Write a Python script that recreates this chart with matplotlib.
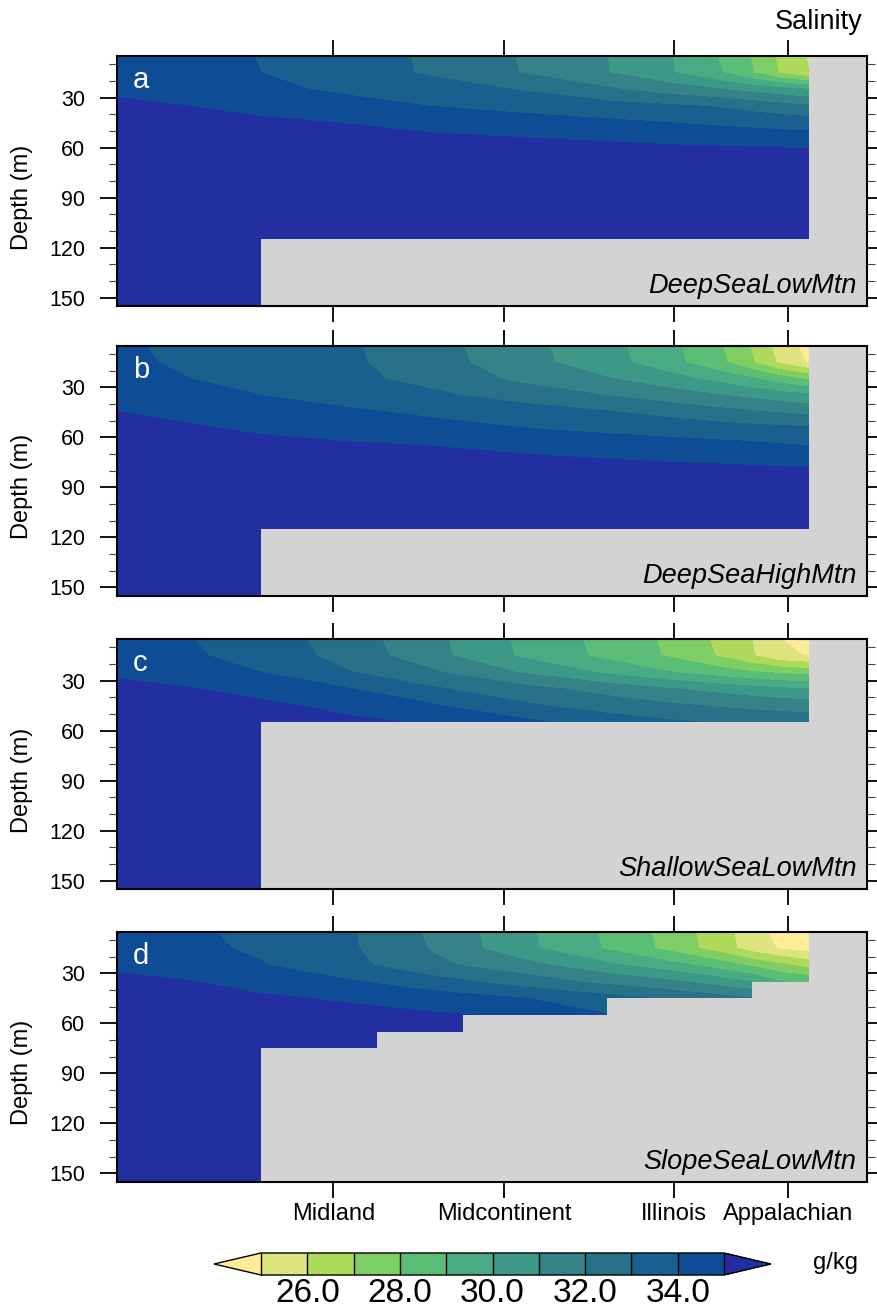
import numpy as np
import matplotlib
matplotlib.use('Agg')
import matplotlib.pyplot as plt

plt.rcParams['font.family'] = ['Liberation Sans', 'DejaVu Sans']

# grid stations (model column index) and depths (m)
stations = [0, 2, 5, 8, 11, 14, 17, 19, 21, 22, 23, 24]
depths = [5, 15, 25, 35, 45, 55, 65, 75, 85, 155]

# salinity (g/kg), one row per depth
sal_a = [
    [34.2, 34.12, 33.99, 33.44, 32.83, 31.94, 31.0, 30.17, 28.86, 27.95, 26.77, 25.9],
    [34.4, 34.24, 34.0, 33.45, 32.86, 31.98, 31.03, 30.19, 29.0, 28.06, 26.91, 26.0],
    [34.7, 34.5, 34.2, 33.83, 33.4, 32.95, 32.14, 31.57, 31.0, 30.67, 30.33, 30.0],
    [35.3, 35.05, 34.69, 34.33, 33.97, 33.67, 33.36, 33.16, 32.89, 32.63, 32.36, 32.1],
    [35.5, 35.37, 35.17, 34.97, 34.71, 34.45, 34.19, 34.02, 33.81, 33.71, 33.6, 33.5],
    [35.6, 35.52, 35.4, 35.29, 35.17, 35.06, 34.91, 34.79, 34.68, 34.62, 34.56, 34.5],
    [35.7, 35.68, 35.65, 35.6, 35.57, 35.53, 35.5, 35.47, 35.45, 35.43, 35.42, 35.4],
    [35.8] * 12,
    [35.9] * 12,
    [36.0] * 12,
]
sal_b = [
    [34.1, 33.9, 33.51, 33.14, 32.33, 31.34, 30.3, 29.39, 28.0, 26.94, 25.56, 24.6],
    [34.2, 33.92, 33.53, 33.17, 32.41, 31.41, 30.37, 29.47, 28.15, 27.11, 25.8, 24.9],
    [34.4, 34.08, 33.66, 33.26, 32.67, 31.8, 31.07, 30.45, 29.68, 29.16, 28.53, 27.85],
    [34.75, 34.46, 34.01, 33.6, 33.18, 32.64, 32.0, 31.52, 31.05, 30.78, 30.5, 30.23],
    [35.02, 34.8, 34.48, 34.17, 33.83, 33.46, 33.09, 32.74, 32.34, 32.14, 31.95, 31.77],
    [35.4, 35.18, 34.87, 34.6, 34.32, 34.05, 33.79, 33.62, 33.45, 33.36, 33.28, 33.19],
    [35.7, 35.5, 35.25, 35.12, 34.98, 34.76, 34.55, 34.41, 34.28, 34.21, 34.1, 34.0],
    [35.9, 35.8, 35.7, 35.55, 35.4, 35.25, 35.1, 35.01, 34.93, 34.87, 34.82, 34.77],
    [36.0, 35.95, 35.9, 35.85, 35.8, 35.75, 35.7, 35.65, 35.6, 35.55, 35.5, 35.5],
    [36.0] * 12,
]
sal_c = [
    [34.3, 34.13, 33.54, 32.51, 31.21, 29.83, 28.67, 27.88, 26.73, 26.01, 25.01, 24.3],
    [34.5, 34.23, 33.63, 32.64, 31.3, 29.88, 28.73, 27.95, 26.85, 26.1, 25.2, 24.95],
    [34.8, 34.48, 34.0, 33.06, 32.12, 30.93, 29.82, 29.1, 28.43, 28.1, 27.84, 27.6],
    [35.3, 35.13, 34.7, 34.06, 33.13, 32.37, 31.63, 31.12, 30.65, 30.41, 30.18, 30.0],
    [35.6, 35.43, 35.17, 34.77, 34.09, 33.19, 32.56, 32.19, 31.88, 31.75, 31.63, 31.5],
    [35.8, 35.6, 35.37, 35.17, 34.91, 34.28, 33.51, 33.18, 32.89, 32.79, 32.7, 32.6],
    [35.9, 35.8, 35.6, 35.5, 35.4, 35.3, 35.2, 35.1, 35.0, 35.0, 35.0, 35.0],
    [36.0] * 12,
    [36.0] * 12,
    [36.0] * 12,
]
sal_d = [
    [34.3, 34.16, 33.82, 33.13, 31.79, 30.25, 28.84, 27.74, 26.34, 25.45, 24.65, 24.0],
    [34.5, 34.27, 33.86, 33.16, 31.89, 30.3, 28.89, 27.81, 26.42, 25.55, 24.89, 24.6],
    [34.75, 34.47, 34.05, 33.32, 32.22, 31.4, 30.23, 29.44, 28.47, 27.81, 27.23, 26.6],
    [35.3, 35.1, 34.64, 34.12, 33.39, 32.55, 31.71, 31.25, 30.5, 30.0, 29.0, 28.8],
    [35.6, 35.4, 35.14, 34.88, 34.47, 34.05, 33.37, 32.87, 32.35, 32.1, 31.5, 31.0],
    [35.8, 35.7, 35.5, 35.3, 35.1, 34.9, 34.05, 33.7, 33.3, 33.1, 32.8, 32.5],
    [35.9, 35.85, 35.7, 35.55, 35.4, 35.4, 35.0, 34.8, 34.6, 34.5, 34.4, 34.3],
    [36.0] * 12,
    [36.0] * 12,
    [36.0] * 12,
]

# sea floor: column edges and bottom depth (155 = full depth, 5 = land at surface)
floor_x_a = [0, 5, 24, 26]
floor_z_a = [155, 115, 5, 5]
floor_x_c = [0, 5, 24, 26]
floor_z_c = [155, 55, 5, 5]
floor_x_d = [0, 5, 9, 12, 17, 22, 24, 26]
floor_z_d = [155, 75, 65, 55, 45, 35, 5, 5]

panels = [
    ('a', 'DeepSeaLowMtn', sal_a, floor_x_a, floor_z_a),
    ('b', 'DeepSeaHighMtn', sal_b, floor_x_a, floor_z_a),
    ('c', 'ShallowSeaLowMtn', sal_c, floor_x_c, floor_z_c),
    ('d', 'SlopeSeaLowMtn', sal_d, floor_x_d, floor_z_d),
]

basin_pos = [7.5, 13.42, 19.32, 23.25]
basin_names = ['Midland', 'Midcontinent', 'Illinois', 'Appalachian']

levels = [25, 26, 27, 28, 29, 30, 31, 32, 33, 34, 35]
colors = ['#FEEC98', '#DDE47D', '#AFD95A', '#7ECE63', '#5CBD76', '#49AB83',
          '#3E9888', '#358388', '#287188', '#18608D', '#0E4D95', '#232EA0']
land = '#D3D3D3'

W, H = 877, 1312
fig = plt.figure(figsize=(W / 100, H / 100), dpi=100)

tops = [56, 345.7, 639, 931.7]
for i, (letter, name, sal, fx, fz) in enumerate(panels):
    top = tops[i]
    ax = fig.add_axes([117 / W, 1 - (top + 250) / H, 750 / W, 250 / H])
    ax.set_facecolor(land)
    cf = ax.contourf(stations, depths, np.array(sal), levels=levels,
                     colors=colors, extend='both')
    ax.fill_between(fx, fz, 155, step='post', color=land, lw=0, zorder=3)
    ax.set_xlim(0, 26)
    ax.set_ylim(155, 5)

    ax.set_yticks([30, 60, 90, 120, 150])
    ax.set_yticks([10, 20, 40, 50, 70, 80, 100, 110, 130, 140], minor=True)
    ax.tick_params(axis='y', which='major', direction='out', length=12, width=1.3,
                   left=True, right=True, labelsize=15.5, pad=11)
    ax.tick_params(axis='y', which='minor', direction='out', length=6, width=0.8,
                   color='#444444', left=True, right=True)
    ax.set_xticks(basin_pos)
    ax.tick_params(axis='x', direction='out', length=11.5, width=1.3,
                   top=True, bottom=True, labelsize=17, pad=4)
    if i == 3:
        ax.set_xticklabels(basin_names)
    else:
        ax.set_xticklabels([])
    for s in ax.spines.values():
        s.set_linewidth(1.5)
        s.set_zorder(5)

    ax.set_ylabel('Depth (m)', fontsize=17)
    ax.yaxis.set_label_coords(-0.112, 0.436)
    ax.text(0.021, 0.872, letter, transform=ax.transAxes, color='white',
            fontsize=21, va='baseline', ha='left', zorder=6)
    ax.text(0.986, 0.051, name, transform=ax.transAxes, fontsize=19.5,
            style='italic', va='baseline', ha='right', zorder=6)

fig.text(862 / W, 1 - 29.3 / H, 'Salinity', fontsize=19.5, ha='right', va='baseline')

cax = fig.add_axes([214 / W, 1 - 1275 / H, 557 / W, 22 / H])
cb = fig.colorbar(cf, cax=cax, orientation='horizontal', ticks=[26, 28, 30, 32, 34],
                  extendfrac=0.1015, drawedges=True, format='%.1f')
cb.ax.tick_params(length=0, labelsize=24, pad=2)
cb.outline.set_linewidth(1)
cb.dividers.set_linewidth(1)
fig.text(813 / W, 1 - 1263 / H, 'g/kg', fontsize=17, ha='left', va='center')

fig.savefig('out.png', dpi=100)
